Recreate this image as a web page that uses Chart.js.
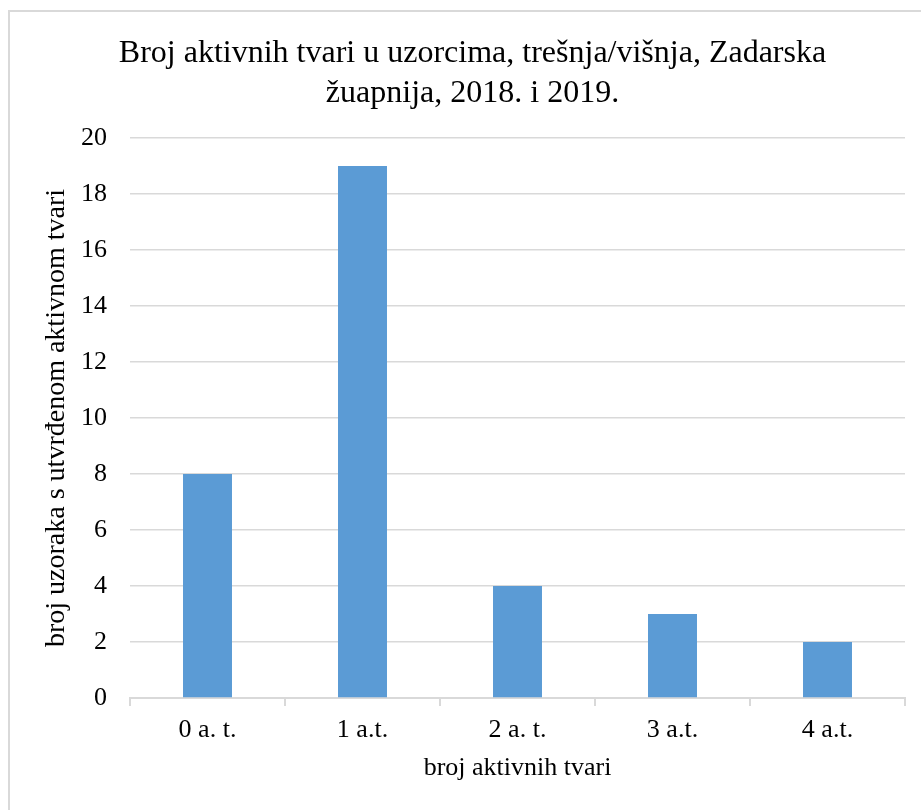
<!DOCTYPE html>
<html>
<head>
<meta charset="utf-8">
<script src="https://cdn.jsdelivr.net/npm/chart.js@4/dist/chart.umd.min.js"></script>
<style>
  html, body { margin: 0; padding: 0; background: #fff; overflow: hidden; }
  #frame {
    position: absolute; left: 8px; top: 10px; width: 940px; height: 830px;
    border: 2px solid #d9d9d9; box-sizing: border-box;
  }
  #wrap { position: absolute; left: 0; top: 0; width: 921px; height: 810px; }
</style>
</head>
<body>
<div id="frame"></div>
<div id="wrap"><canvas id="chart"></canvas></div>
<script>
const categories = ['0 a. t.', '1 a.t.', '2 a. t.', '3 a.t.', '4 a.t.'];
const sampleCounts = [8, 19, 4, 3, 2];
const titleLines = ['Broj aktivnih tvari u uzorcima, trešnja/višnja, Zadarska', 'žuapnija, 2018. i 2019.'];
const xTitle = 'broj aktivnih tvari';
const yTitle = 'broj uzoraka s utvrđenom aktivnom tvari';

const serif = "'Liberation Serif', 'Times New Roman', serif";
const ctx = document.getElementById('chart').getContext('2d');

new Chart(ctx, {
    type: 'bar',
    data: {
        labels: categories,
        datasets: [{
            data: sampleCounts,
            backgroundColor: '#5b9bd5',
            categoryPercentage: 1,
            barPercentage: 0.316,
        }]
    },
    options: {
        responsive: true,
        maintainAspectRatio: false,
        animation: false,
        layout: { padding: { left: 40, right: 16, top: 34, bottom: 26 } },
        plugins: {
            legend: { display: false },
            tooltip: { enabled: false },
            title: {
                display: true,
                text: titleLines,
                color: '#000',
                font: { family: serif, size: 32, weight: 'normal', lineHeight: 1.25 },
                padding: { top: 0, bottom: 24 },
            },
        },
        scales: {
            x: {
                // fixed axis height so the plot bottom sits where the original has it
                afterFit: (scale) => { scale.height = 86; },
                grid: {
                    drawOnChartArea: false,
                    drawTicks: true,
                    tickLength: 8,
                    color: '#d9d9d9',
                    lineWidth: 2,
                },
                border: { display: true, color: '#d9d9d9', width: 2 },
                ticks: {
                    color: '#000',
                    font: { family: serif, size: 26 },
                    padding: 9,
                },
                title: {
                    display: true,
                    text: xTitle,
                    color: '#000',
                    font: { family: serif, size: 26 },
                    padding: { top: 0, bottom: 0 },
                },
            },
            y: {
                afterFit: (scale) => { scale.width = 90; },
                min: 0,
                max: 20,
                ticks: {
                    stepSize: 2,
                    color: '#000',
                    font: { family: serif, size: 26 },
                    padding: 23,
                },
                grid: {
                    drawTicks: false,
                    color: '#d9d9d9',
                    lineWidth: 1.5,
                },
                border: { display: false },
                title: {
                    display: true,
                    text: yTitle,
                    color: '#000',
                    font: { family: serif, size: 28 },
                    padding: { top: 0, bottom: 8 },
                },
            }
        }
    }
});
</script>
</body>
</html>
